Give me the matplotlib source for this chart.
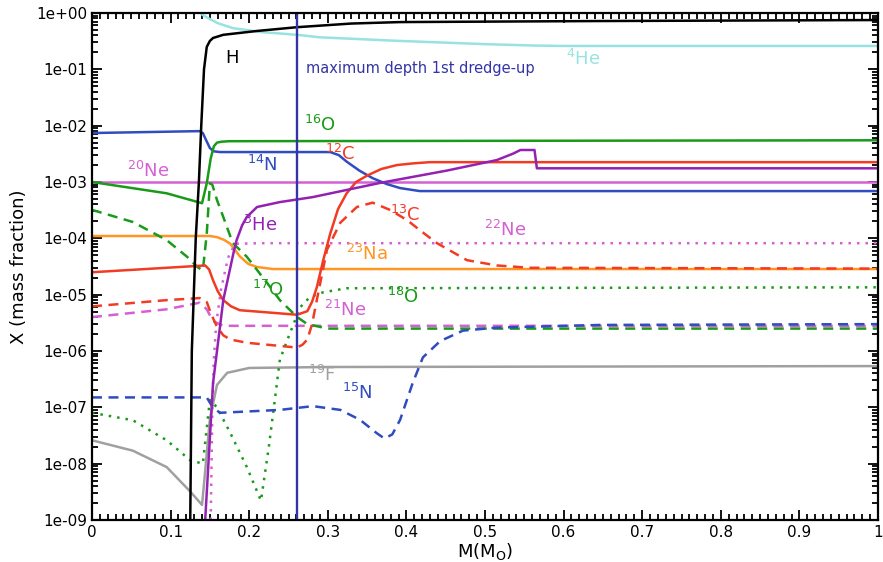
import numpy as np
import matplotlib
matplotlib.use("Agg")
import matplotlib.pyplot as plt
from matplotlib.ticker import MultipleLocator, LogLocator, NullFormatter, FixedLocator

# mass coordinate (Msun) and mass fractions
H_x = [0.125, 0.127, 0.132, 0.136, 0.139, 0.1425, 0.146, 0.150, 0.154, 0.167, 0.21, 0.261, 0.33, 0.392, 0.646, 1.0]
H_y = [1e-9, 1e-6, 1e-4, 1e-3, 1e-2, 0.1, 0.25, 0.32, 0.36, 0.41, 0.48, 0.56, 0.65, 0.69, 0.72, 0.75]

He4_x = [0.138, 0.141, 0.15, 0.16, 0.179, 0.214, 0.261, 0.29, 0.39, 0.5, 0.56, 0.6, 1.0]
He4_y = [1.0, 0.92, 0.78, 0.66, 0.54, 0.46, 0.41, 0.37, 0.32, 0.28, 0.265, 0.26, 0.26]

N14_x = [0.0, 0.137, 0.141, 0.145, 0.150, 0.155, 0.163, 0.303, 0.314, 0.324, 0.34, 0.357, 0.375, 0.392, 0.417, 1.0]
N14_y = [7.4e-3, 8.0e-3, 7.4e-3, 5.6e-3, 4.0e-3, 3.5e-3, 3.4e-3, 3.4e-3, 3.0e-3, 2.3e-3, 1.6e-3, 1.17e-3, 9.2e-4,
         7.8e-4, 6.9e-4, 6.9e-4]

O16_x = [0.0, 0.095, 0.140, 0.146, 0.151, 0.155, 0.159, 0.165, 0.175, 1.0]
O16_y = [1.0e-3, 6.3e-4, 4.2e-4, 9.5e-4, 2.6e-3, 4.3e-3, 5.0e-3, 5.2e-3, 5.3e-3, 5.5e-3]

C12_x = [0.0, 0.144, 0.149, 0.154, 0.160, 0.167, 0.177, 0.188, 0.261, 0.274, 0.280, 0.286, 0.294, 0.303,
         0.313, 0.324, 0.336, 0.35, 0.368, 0.388, 0.41, 0.43, 1.0]
C12_y = [2.5e-5, 3.3e-5, 2.8e-5, 1.8e-5, 1.15e-5, 8.0e-6, 6.2e-6, 5.3e-6, 4.4e-6, 5.1e-6, 7.5e-6, 1.35e-5, 4.0e-5,
         1.2e-4, 3.3e-4, 6.3e-4, 1.0e-3, 1.3e-3, 1.7e-3, 2.0e-3, 2.15e-3, 2.25e-3, 2.25e-3]

C13_x = [0.0, 0.095, 0.137, 0.146, 0.152, 0.159, 0.167, 0.176, 0.197, 0.261, 0.268, 0.274, 0.280, 0.286, 0.299,
         0.316, 0.337, 0.357, 0.379, 0.401, 0.42, 0.439, 0.477, 0.515, 0.557, 1.0]
C13_y = [6.2e-6, 8.0e-6, 8.7e-6, 7.4e-6, 4.4e-6, 2.7e-6, 1.9e-6, 1.6e-6, 1.4e-6, 1.15e-6, 1.3e-6, 1.6e-6, 3.0e-6,
         8.0e-6, 6.3e-5, 1.9e-4, 3.6e-4, 4.3e-4, 3.2e-4, 2.1e-4, 1.3e-4, 8.2e-5, 4.1e-5, 3.3e-5, 3.0e-5, 2.9e-5]

Ne20_x = [0.0, 1.0]
Ne20_y = [1.0e-3, 1.0e-3]

He3_x = [0.144, 0.154, 0.167, 0.180, 0.184, 0.191, 0.197, 0.21, 0.239, 0.281, 0.366, 0.452, 0.515, 0.536,
         0.545, 0.563, 0.566, 1.0]
He3_y = [1e-9, 2.7e-7, 8.0e-6, 5.5e-5, 9.3e-5, 1.7e-4, 2.4e-4, 3.6e-4, 4.4e-4, 5.4e-4, 9.6e-4, 1.6e-3, 2.45e-3,
         3.2e-3, 3.7e-3, 3.7e-3, 1.75e-3, 1.75e-3]

Na23_x = [0.0, 0.15, 0.159, 0.168, 0.176, 0.188, 0.199, 0.21, 0.23, 1.0]
Na23_y = [1.1e-4, 1.1e-4, 1.05e-4, 9.4e-5, 8.0e-5, 4.8e-5, 3.5e-5, 3.1e-5, 2.85e-5, 2.85e-5]

Ne22_x = [0.151, 0.153, 0.155, 0.158, 0.164, 0.173, 0.182, 0.214, 1.0]
Ne22_y = [1e-9, 8e-8, 7e-7, 3e-6, 1.2e-5, 4.5e-5, 8.0e-5, 8.2e-5, 8.2e-5]

Ne21_x = [0.0, 0.095, 0.137, 0.146, 0.154, 0.167, 1.0]
Ne21_y = [4.0e-6, 5.5e-6, 7.2e-6, 5.5e-6, 3.4e-6, 2.8e-6, 2.8e-6]

O17_x = [0.0, 0.052, 0.095, 0.121, 0.134, 0.141, 0.146, 0.150, 0.153, 0.159, 0.167, 0.179, 0.197,
         0.223, 0.239, 0.261, 0.274, 0.3, 1.0]
O17_y = [3.2e-4, 1.95e-4, 9.3e-5, 4.7e-5, 3.1e-5, 2.7e-5, 1.2e-4, 9.5e-4, 9.0e-4, 4.8e-4, 2.4e-4, 8.3e-5, 4.7e-5,
         1.6e-5, 8.0e-6, 4.0e-6, 3.0e-6, 2.5e-6, 2.5e-6]

O18_x = [0.0, 0.052, 0.095, 0.125, 0.141, 0.150, 0.159, 0.176, 0.197, 0.215, 0.225, 0.235, 0.239,
         0.252, 0.265, 0.277, 0.294, 0.324, 1.0]
O18_y = [8.0e-8, 5.9e-8, 2.6e-8, 1.15e-8, 1.0e-8, 1.35e-7, 1.0e-7, 3.5e-8, 8.7e-9, 2.2e-9, 2.0e-8, 2.5e-7, 7.0e-7,
         2.1e-6, 6.0e-6, 9.0e-6, 1.1e-5, 1.3e-5, 1.35e-5]

F19_x = [0.0, 0.052, 0.095, 0.125, 0.140, 0.144, 0.150, 0.159, 0.172, 0.2, 0.3, 1.0]
F19_y = [2.6e-8, 1.7e-8, 8.7e-9, 3.2e-9, 1.85e-9, 7.4e-9, 6.2e-8, 2.5e-7, 4.1e-7, 5.0e-7, 5.2e-7, 5.4e-7]

N15_x = [0.0, 0.137, 0.146, 0.154, 0.163, 0.239, 0.281, 0.316, 0.341, 0.362, 0.372, 0.382, 0.392,
         0.408, 0.421, 0.443, 0.472, 0.515, 0.646, 1.0]
N15_y = [1.5e-7, 1.5e-7, 1.5e-7, 9.8e-8, 8.0e-8, 9.0e-8, 1.05e-7, 9.0e-8, 6.0e-8, 3.5e-8, 2.8e-8, 3.3e-8, 6.0e-8,
         2.7e-7, 7.7e-7, 1.5e-6, 2.3e-6, 2.6e-6, 2.9e-6, 3.0e-6]

dredge_x = 0.261

BLACK = "black"
CYAN = "#98e2e2"
BLUE = "#2f4cc0"
GREEN = "#199b19"
RED = "#f23b25"
MAGENTA = "#d460d4"
PURPLE = "#9322b3"
ORANGE = "#ff9624"
GRAY = "#a0a0a0"
DREDGE = "#3434a6"

SOLID = "-"
DASHED = (0, (4.0, 2.6))
DOTTED = (0, (1.0, 2.4))

curves = [
    (He4_x, He4_y, CYAN, SOLID),
    (Ne20_x, Ne20_y, MAGENTA, SOLID),
    (Na23_x, Na23_y, ORANGE, SOLID),
    (F19_x, F19_y, GRAY, SOLID),
    (Ne22_x, Ne22_y, MAGENTA, DOTTED),
    (O18_x, O18_y, GREEN, DOTTED),
    (Ne21_x, Ne21_y, MAGENTA, DASHED),
    (O17_x, O17_y, GREEN, DASHED),
    (N15_x, N15_y, BLUE, DASHED),
    (C13_x, C13_y, RED, DASHED),
    (N14_x, N14_y, BLUE, SOLID),
    (O16_x, O16_y, GREEN, SOLID),
    (C12_x, C12_y, RED, SOLID),
    (He3_x, He3_y, PURPLE, SOLID),
    (H_x, H_y, BLACK, SOLID),
]

labels = [
    ("H", 0.178, 0.16, BLACK),
    (r"$^{4}$He", 0.625, 0.15, CYAN),
    (r"$^{16}$O", 0.29, 1.05e-2, GREEN),
    (r"$^{12}$C", 0.316, 3.1e-3, RED),
    (r"$^{20}$Ne", 0.071, 1.6e-3, MAGENTA),
    (r"$^{14}$N", 0.217, 2.0e-3, BLUE),
    (r"$^{3}$He", 0.214, 1.7e-4, PURPLE),
    (r"$^{13}$C", 0.398, 2.6e-4, RED),
    (r"$^{22}$Ne", 0.525, 1.4e-4, MAGENTA),
    (r"$^{23}$Na", 0.35, 5.3e-5, ORANGE),
    (r"$^{17}$O", 0.224, 1.2e-5, GREEN),
    (r"$^{21}$Ne", 0.322, 5.4e-6, MAGENTA),
    (r"$^{18}$O", 0.396, 9.0e-6, GREEN),
    (r"$^{19}$F", 0.293, 3.7e-7, GRAY),
    (r"$^{15}$N", 0.338, 1.8e-7, BLUE),
]

ytick_vals = [1e0, 1e-1, 1e-2, 1e-3, 1e-4, 1e-5, 1e-6, 1e-7, 1e-8, 1e-9]
ytick_text = ["1e+00", "1e-01", "1e-02", "1e-03", "1e-04", "1e-05", "1e-06", "1e-07", "1e-08", "1e-09"]
xtick_vals = [0, 0.1, 0.2, 0.3, 0.4, 0.5, 0.6, 0.7, 0.8, 0.9, 1.0]
xtick_text = ["0", "0.1", "0.2", "0.3", "0.4", "0.5", "0.6", "0.7", "0.8", "0.9", "1"]

fig = plt.figure(figsize=(8.83, 5.62), dpi=100)
ax = fig.add_axes([92 / 883, 42 / 562, 786 / 883, 507 / 562])

for xs, ys, col, ls in curves:
    ax.plot(xs, ys, color=col, linestyle=ls, lw=1.8, solid_joinstyle="round")

ax.axvline(dredge_x, color=DREDGE, lw=1.7)
ax.text(dredge_x + 0.011, 0.105, "maximum depth 1st dredge-up", color=DREDGE,
        fontsize=10.5, va="center", ha="left")

for txt, x, y, col in labels:
    ax.text(x, y, txt, color=col, fontsize=13, ha="center", va="center")

ax.set_yscale("log")
ax.set_xlim(0, 1)
ax.set_ylim(1e-9, 1)

ax.yaxis.set_major_locator(FixedLocator(ytick_vals))
ax.set_yticklabels(ytick_text)
ax.yaxis.set_minor_locator(LogLocator(base=10, subs=np.arange(2, 10), numticks=20))
ax.yaxis.set_minor_formatter(NullFormatter())
ax.set_xticks(xtick_vals)
ax.set_xticklabels(xtick_text)
ax.xaxis.set_minor_locator(MultipleLocator(0.01))

ax.tick_params(which="both", direction="in", top=True, right=True, labelsize=11, width=1.3)
ax.tick_params(which="major", length=7)
ax.tick_params(which="minor", length=4)
for sp in ax.spines.values():
    sp.set_linewidth(1.6)

ax.set_ylabel("X (mass fraction)", fontsize=13, labelpad=6)
ax.set_xlabel(r"M(M$_{\rm O}$)", fontsize=13, labelpad=1)

fig.savefig("out.png", dpi=100)
